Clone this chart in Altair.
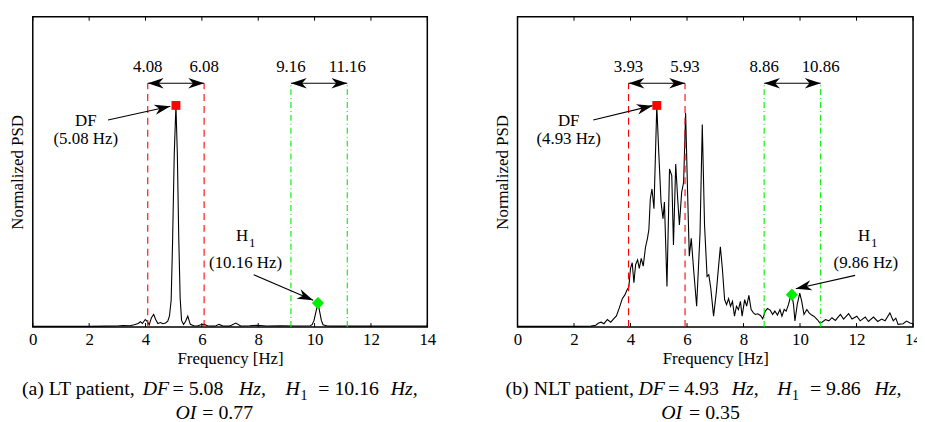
import math
import altair as alt
import pandas as pd

# ---------------- data ----------------
# (a) LT patient spectrum
lt_freq = [0.0, 1.0, 2.0, 2.6, 3.0, 3.2, 3.45, 3.6,
           3.74, 3.82, 3.89, 3.99, 4.06, 4.13, 4.21, 4.29,
           4.36, 4.44, 4.53, 4.62, 4.71, 4.79, 4.85, 4.91,
           4.96, 5.02, 5.08, 5.13, 5.18, 5.23, 5.28, 5.35,
           5.42, 5.5, 5.59, 5.73, 5.85, 5.97, 6.08, 6.2,
           6.38, 6.5, 6.61, 6.75, 6.95, 7.05, 7.2, 7.38,
           7.7, 7.96, 8.3, 8.8, 9.3, 9.85, 9.92, 9.98,
           10.05, 10.12, 10.18, 10.24, 10.3, 10.45, 10.6, 11.0,
           11.5, 12.0, 12.5, 13.0, 13.5, 14.0]
lt_psd = [0.003, 0.003, 0.003, 0.004, 0.005, 0.007, 0.006, 0.01,
          0.016, 0.024, 0.016, 0.034, 0.026, 0.01, 0.042, 0.057,
          0.034, 0.016, 0.02, 0.015, 0.018, 0.026, 0.05, 0.12,
          0.38, 0.78, 1.0, 0.78, 0.4, 0.13, 0.03, 0.012,
          0.025, 0.049, 0.012, 0.005, 0.006, 0.01, 0.012, 0.006,
          0.005, 0.006, 0.012, 0.005, 0.004, 0.008, 0.018, 0.005,
          0.006, 0.008, 0.005, 0.006, 0.005, 0.006, 0.012, 0.03,
          0.07, 0.108, 0.07, 0.03, 0.01, 0.005, 0.004, 0.004,
          0.005, 0.004, 0.005, 0.004, 0.004, 0.004]

# (b) NLT patient spectrum
nlt_freq = [0.0, 1.0, 2.0, 2.6, 2.77, 2.87, 2.96, 3.06,
            3.18, 3.3, 3.41, 3.5, 3.6, 3.71, 3.8, 3.88,
            3.94, 4.0, 4.06, 4.12, 4.18, 4.25, 4.31, 4.38,
            4.45, 4.53, 4.6, 4.65, 4.7, 4.76, 4.83, 4.93,
            5.0, 5.08, 5.15, 5.2, 5.29, 5.38, 5.46, 5.52,
            5.6, 5.67, 5.73, 5.81, 5.88, 5.95, 6.02, 6.08,
            6.15, 6.23, 6.34, 6.46, 6.54, 6.62, 6.71, 6.77,
            6.84, 6.94, 7.04, 7.1, 7.18, 7.25, 7.33, 7.4,
            7.47, 7.54, 7.61, 7.68, 7.75, 7.82, 7.89, 7.95,
            8.04, 8.11, 8.19, 8.27, 8.35, 8.42, 8.5, 8.6,
            8.68, 8.77, 8.85, 8.95, 9.03, 9.11, 9.2, 9.29,
            9.36, 9.44, 9.51, 9.59, 9.65, 9.71, 9.77, 9.82,
            9.9, 9.99, 10.06, 10.14, 10.24, 10.32, 10.41, 10.49,
            10.61, 10.7, 10.78, 10.9, 11.02, 11.13, 11.25, 11.43,
            11.54, 11.72, 11.84, 12.01, 12.13, 12.31, 12.42, 12.6,
            12.75, 12.89, 13.01, 13.18, 13.3, 13.39, 13.47, 13.65,
            13.77, 13.89, 14.0]
nlt_psd = [0.003, 0.003, 0.003, 0.004, 0.008, 0.018, 0.022, 0.015,
           0.034, 0.022, 0.038, 0.05, 0.085, 0.128, 0.145, 0.168,
           0.18, 0.265, 0.29, 0.2, 0.282, 0.303, 0.265, 0.31,
           0.275, 0.36, 0.4, 0.44, 0.578, 0.623, 0.534, 1.0,
           0.787, 0.564, 0.489, 0.564, 0.183, 0.713, 0.683, 0.37,
           0.735, 0.578, 0.46, 0.608, 0.653, 0.966, 0.608, 0.32,
           0.4, 0.265, 0.094, 0.42, 0.914, 0.46, 0.228, 0.236,
           0.176, 0.049, 0.161, 0.25, 0.362, 0.265, 0.124, 0.101,
           0.128, 0.094, 0.116, 0.049, 0.094, 0.079, 0.116, 0.049,
           0.124, 0.094, 0.143, 0.079, 0.064, 0.057, 0.06, 0.052,
           0.037, 0.072, 0.084, 0.075, 0.057, 0.072, 0.054, 0.079,
           0.049, 0.079, 0.072, 0.101, 0.131, 0.146, 0.101, 0.027,
           0.101, 0.153, 0.116, 0.057, 0.079, 0.064, 0.054, 0.049,
           0.034, 0.019, 0.022, 0.034, 0.028, 0.042, 0.03, 0.057,
           0.036, 0.06, 0.036, 0.049, 0.028, 0.045, 0.025, 0.045,
           0.025, 0.036, 0.028, 0.064, 0.028, 0.04, 0.012, 0.015,
           0.027, 0.018, 0.015]

assert len(lt_freq) == len(lt_psd)
assert len(nlt_freq) == len(nlt_psd)

x_ticks = [0, 2, 4, 6, 8, 10, 12, 14]

# annotations
lt_red = [4.08, 6.08]
lt_green = [9.16, 11.16]
lt_red_lbl = ["4.08", "6.08"]
lt_green_lbl = ["9.16", "11.16"]
lt_df = [5.08, 1.0]
lt_h1 = [10.12, 0.108]
lt_df_text = ["DF", "(5.08 Hz)"]
lt_df_text_x = 1.88
lt_df_arrow = [2.67, 0.934, 4.88, 0.996]
lt_h1_text = ["H", "1", "(10.16 Hz)"]
lt_h1_text_x = [7.64, 7.55]
lt_h1_arrow = [7.84, 0.236, 9.95, 0.121]

nlt_red = [3.93, 5.93]
nlt_green = [8.73, 10.73]
nlt_red_lbl = ["3.93", "5.93"]
nlt_green_lbl = ["8.86", "10.86"]
nlt_df = [4.93, 1.0]
nlt_h1 = [9.71, 0.146]
nlt_df_text = ["DF", "(4.93 Hz)"]
nlt_df_text_x = 1.81
nlt_df_arrow = [2.68, 0.934, 4.78, 0.999]
nlt_h1_text = ["H", "1", "(9.86 Hz)"]
nlt_h1_text_x = [12.48, 12.33]
nlt_h1_arrow = [11.95, 0.233, 9.85, 0.173]

# captions: (text, style, x offset px from plot left, line)
lt_caption = [("(a) LT patient,", "normal", -11, 1), ("DF", "italic", 111, 1),
              ("= 5.08", "normal", 141, 1), ("Hz,", "italic", 208, 1),
              ("H", "italic", 255, 1), ("1", "sub", 270, 1),
              ("= 10.16", "normal", 288, 1), ("Hz,", "italic", 361, 1),
              ("OI", "italic", 144, 2), ("= 0.77", "normal", 171, 2)]
nlt_caption = [("(b) NLT patient,", "normal", -12, 1), ("DF", "italic", 122, 1),
               ("= 4.93", "normal", 152, 1), ("Hz,", "italic", 216, 1),
               ("H", "italic", 262, 1), ("1", "sub", 277, 1),
               ("= 9.86", "normal", 295, 1), ("Hz,", "italic", 360, 1),
               ("OI", "italic", 145, 2), ("= 0.35", "normal", 173, 2)]

# ---------------- styling ----------------
H = 313
XMAX, YMAX = 14, 1.4
FONT = "Liberation Serif"
RED = "#ff0000"
GREEN = "#00ee00"
ARROW = "M0,0L-2,-0.65L-1.4,0L-2,0.65Z"
ARROW_TOP = 1.10
LBL_Y = 1.153
CAP_FS = 20
FS = 17


def panel(W, freq, psd, red, green, red_lbl, green_lbl, df, h1, df_text, df_text_x,
          df_arrow, h1_text, h1_text_x, h1_arrow, caption):
    def pix_angle(x0, y0, x1, y1):
        dx = (x1 - x0) * W / XMAX
        dy = -(y1 - y0) * H / YMAX
        return math.degrees(math.atan2(dy, dx)) % 360

    xs = alt.Scale(domain=[0, XMAX], nice=False, zero=False)
    ys = alt.Scale(domain=[0, YMAX], nice=False, zero=False)

    spec = alt.Chart(pd.DataFrame({"x": freq, "y": psd})).mark_line(
        color="black", strokeWidth=1.1).encode(
        x=alt.X("x:Q", scale=xs, axis=alt.Axis(
            values=x_ticks, title="Frequency [Hz]", ticks=False, domain=False,
            grid=False, labelPadding=5, titlePadding=3, labelFlush=False)),
        y=alt.Y("y:Q", scale=ys, axis=alt.Axis(
            title="Normalized PSD", labels=False, ticks=False, domain=False,
            grid=False, titlePadding=6)))

    tick_df = pd.DataFrame({"x": x_ticks})
    ticks_b = alt.Chart(tick_df).mark_rule(color="black", strokeWidth=1).encode(
        x="x:Q", y=alt.value(H), y2=alt.value(H - 4))
    ticks_t = alt.Chart(tick_df).mark_rule(color="black", strokeWidth=1).encode(
        x="x:Q", y=alt.value(0), y2=alt.value(4))

    red_df = pd.DataFrame({"x": red, "y": [0, 0], "y2": [ARROW_TOP, ARROW_TOP]})
    green_df = pd.DataFrame({"x": green, "y": [0, 0], "y2": [ARROW_TOP, ARROW_TOP]})
    red_lines = alt.Chart(red_df).mark_rule(color=RED, strokeWidth=1.1, strokeDash=[7, 5]).encode(
        x="x:Q", y="y:Q", y2="y2:Q")
    green_lines = alt.Chart(green_df).mark_rule(color=GREEN, strokeWidth=1.1,
                                                strokeDash=[6, 3, 1, 3]).encode(
        x="x:Q", y="y:Q", y2="y2:Q")

    win_df = pd.DataFrame({"x": [red[0], green[0]], "x2": [red[1], green[1]],
                           "y": [ARROW_TOP, ARROW_TOP]})
    win_lines = alt.Chart(win_df).mark_rule(color="black", strokeWidth=1.1).encode(
        x="x:Q", x2="x2:Q", y="y:Q")

    diag_df = pd.DataFrame({"x": [df_arrow[0], h1_arrow[0]], "y": [df_arrow[1], h1_arrow[1]],
                            "x2": [df_arrow[2], h1_arrow[2]], "y2": [df_arrow[3], h1_arrow[3]]})
    diag_lines = alt.Chart(diag_df).mark_rule(color="black", strokeWidth=1.1).encode(
        x="x:Q", y="y:Q", x2="x2:Q", y2="y2:Q")

    heads_df = pd.DataFrame({
        "x": [red[0], red[1], green[0], green[1], df_arrow[2], h1_arrow[2]],
        "y": [ARROW_TOP] * 4 + [df_arrow[3], h1_arrow[3]],
        "a": [180, 0, 180, 0, pix_angle(*df_arrow), pix_angle(*h1_arrow)]})
    heads = alt.Chart(heads_df).mark_point(shape=ARROW, filled=True, color="black",
                                           size=256, opacity=1, strokeWidth=0).encode(
        x="x:Q", y="y:Q", angle=alt.Angle("a:Q", scale=None))

    sq = alt.Chart(pd.DataFrame({"x": [df[0]], "y": [df[1]]})).mark_point(
        shape="square", filled=True, color=RED, size=80, opacity=1).encode(x="x:Q", y="y:Q")
    dia = alt.Chart(pd.DataFrame({"x": [h1[0]], "y": [h1[1]]})).mark_point(
        shape="diamond", filled=True, color=GREEN, size=150, opacity=1).encode(x="x:Q", y="y:Q")

    lbl_df = pd.DataFrame({"x": red + green, "y": [LBL_Y] * 4, "t": red_lbl + green_lbl})
    lbls = alt.Chart(lbl_df).mark_text(font=FONT, fontSize=FS, baseline="alphabetic",
                                       align="center", color="black").encode(
        x="x:Q", y="y:Q", text="t:N")

    ann_df = pd.DataFrame({"x": [df_text_x, df_text_x, h1_text_x[1]],
                           "y": [0.907, 0.824, 0.265],
                           "t": [df_text[0], df_text[1], h1_text[2]]})
    anns = alt.Chart(ann_df).mark_text(font=FONT, fontSize=FS, baseline="alphabetic",
                                       align="center", color="black").encode(
        x="x:Q", y="y:Q", text="t:N")
    h_df = pd.DataFrame({"x": [h1_text_x[0]], "y": [0.388], "t": [h1_text[0]]})
    h_txt = alt.Chart(h_df).mark_text(font=FONT, fontSize=FS, baseline="alphabetic",
                                      align="right", color="black").encode(
        x="x:Q", y="y:Q", text="t:N")
    s_df = pd.DataFrame({"x": [h1_text_x[0]], "y": [0.388], "t": [h1_text[1]]})
    s_txt = alt.Chart(s_df).mark_text(font=FONT, fontSize=13, baseline="alphabetic",
                                      align="left", dx=1, dy=6, color="black").encode(
        x="x:Q", y="y:Q", text="t:N")

    layers = [spec, ticks_b, ticks_t, red_lines, green_lines, win_lines, diag_lines,
              heads, sq, dia, lbls, anns, h_txt, s_txt]

    for txt, style, xoff, line in caption:
        base_y = H + 69 if line == 1 else H + 93
        fs = CAP_FS
        fstyle = "italic" if style == "italic" else "normal"
        if style == "sub":
            fs = 14
            base_y += 5
        layers.append(
            alt.Chart(pd.DataFrame({"t": [txt]})).mark_text(
                font=FONT, fontSize=fs, fontStyle=fstyle, align="left",
                baseline="alphabetic", color="black").encode(
                x=alt.value(xoff), y=alt.value(base_y), text="t:N"))

    return alt.layer(*layers).properties(width=W, height=H)


left = panel(398, lt_freq, lt_psd, lt_red, lt_green, lt_red_lbl, lt_green_lbl, lt_df, lt_h1,
             lt_df_text, lt_df_text_x, lt_df_arrow, lt_h1_text, lt_h1_text_x, lt_h1_arrow,
             lt_caption)
right = panel(399, nlt_freq, nlt_psd, nlt_red, nlt_green, nlt_red_lbl, nlt_green_lbl, nlt_df,
              nlt_h1, nlt_df_text, nlt_df_text_x, nlt_df_arrow, nlt_h1_text, nlt_h1_text_x,
              nlt_h1_arrow, nlt_caption)

chart = alt.hconcat(left, right, spacing=91, bounds="flush").properties(
    padding={"left": 0, "top": 5, "right": -6, "bottom": 0},
    background="white",
).configure(
    font=FONT
).configure_view(
    stroke="black", strokeWidth=1.5
).configure_axis(
    labelFont=FONT, titleFont=FONT, labelFontSize=FS, titleFontSize=FS,
    labelColor="black", titleColor="black", titleFontWeight="normal", grid=False
)

chart.save("out.html", embed_options={"renderer": "svg", "actions": False})
